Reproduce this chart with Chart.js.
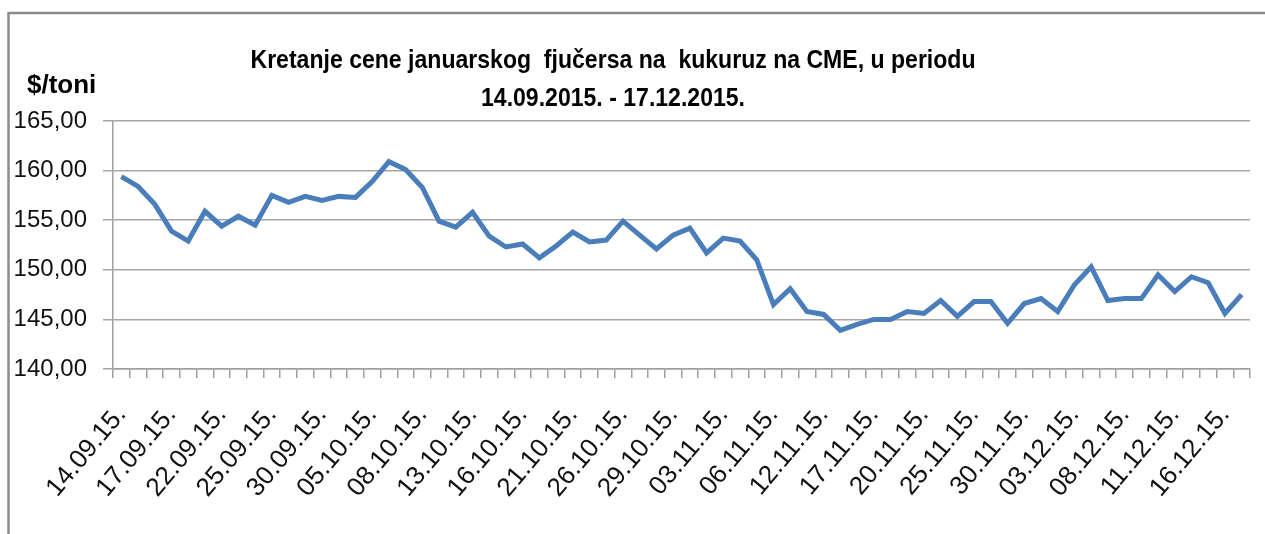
<!DOCTYPE html>
<html>
<head>
<meta charset="utf-8">
<script src="https://cdn.jsdelivr.net/npm/chart.js@4"></script>
<style>
  body { margin: 0; background: #fff; }
  #wrap { width: 1265px; height: 534px; }
</style>
</head>
<body>
<div id="wrap"><canvas id="kukuruzChart" width="1265" height="534"></canvas></div>
<script>
const dates = [
    '14.09.15.', '15.09.15.', '16.09.15.', '17.09.15.', '18.09.15.', '21.09.15.', '22.09.15.',
    '23.09.15.', '24.09.15.', '25.09.15.', '28.09.15.', '29.09.15.', '30.09.15.',
    '01.10.15.', '02.10.15.', '05.10.15.', '06.10.15.', '07.10.15.', '08.10.15.', '09.10.15.',
    '12.10.15.', '13.10.15.', '14.10.15.', '15.10.15.', '16.10.15.', '19.10.15.', '20.10.15.',
    '21.10.15.', '22.10.15.', '23.10.15.', '26.10.15.', '27.10.15.', '28.10.15.', '29.10.15.',
    '30.10.15.', '02.11.15.', '03.11.15.', '04.11.15.', '05.11.15.', '06.11.15.', '09.11.15.',
    '10.11.15.', '12.11.15.', '13.11.15.', '16.11.15.', '17.11.15.', '18.11.15.', '19.11.15.',
    '20.11.15.', '23.11.15.', '24.11.15.', '25.11.15.', '26.11.15.', '27.11.15.', '30.11.15.',
    '01.12.15.', '02.12.15.', '03.12.15.', '04.12.15.', '07.12.15.', '08.12.15.', '09.12.15.',
    '10.12.15.', '11.12.15.', '14.12.15.', '15.12.15.', '16.12.15.', '17.12.15.'
];

const prices = [
    159.4, 158.4, 156.6, 153.9, 152.9, 155.9, 154.4, 155.4, 154.5, 157.5,
    156.8, 157.4, 157.0, 157.4, 157.3, 158.9, 160.9, 160.1, 158.3, 154.9,
    154.3, 155.8, 153.4, 152.3, 152.6, 151.2, 152.4, 153.8, 152.8, 153.0,
    154.9, 153.5, 152.1, 153.5, 154.2, 151.7, 153.2, 152.9, 151.0, 146.5,
    148.1, 145.8, 145.5, 143.9, 144.5, 145.0, 145.0, 145.8, 145.6, 146.9,
    145.3, 146.8, 146.8, 144.6, 146.6, 147.1, 145.8, 148.5, 150.3, 146.9,
    147.1, 147.1, 149.5, 147.8, 149.3, 148.7, 145.6, 147.5
];

const yTicks = [140, 145, 150, 155, 160, 165];

const titleLines = [
    'Kretanje cene januarskog  fjučersa na  kukuruz na CME, u periodu',
    '14.09.2015. - 17.12.2015.'
];
const unitLabel = '$/toni';

// okvir, naslov i jedinica (naslov malo sužen kao Calibri)
const decor = {
    id: 'decor',
    afterDraw(chart) {
        const ctx = chart.ctx;
        ctx.save();
        ctx.strokeStyle = '#8c8c8c';
        ctx.lineWidth = 2.5;
        ctx.beginPath();
        ctx.moveTo(8.5, 534);
        ctx.lineTo(8.5, 13);
        ctx.lineTo(1265, 13);
        ctx.stroke();

        ctx.fillStyle = '#000';
        ctx.textBaseline = 'alphabetic';
        ctx.font = 'bold 25px "Liberation Sans", sans-serif';
        const sx = 725 / ctx.measureText(titleLines[0]).width;

        ctx.save();
        ctx.translate(613, 0);
        ctx.scale(sx, 1);
        ctx.textAlign = 'center';
        ctx.fillText(titleLines[0], 0, 68);
        ctx.fillText(titleLines[1], 0, 106);
        ctx.restore();

        ctx.font = 'bold 26px "Liberation Sans", sans-serif';
        ctx.textAlign = 'left';
        ctx.fillText(unitLabel, 27, 93);
        ctx.restore();
    }
};

new Chart(document.getElementById('kukuruzChart'), {
    type: 'line',
    data: {
        labels: dates,
        datasets: [{
            data: prices,
            borderColor: '#4a7ebb',
            borderWidth: 5,
            pointRadius: 0,
            tension: 0,
            fill: false
        }]
    },
    options: {
        responsive: false,
        animation: false,
        layout: { padding: { top: 121, left: 10, right: 15, bottom: 0 } },
        plugins: {
            legend: { display: false },
            title: { display: false },
            tooltip: { enabled: false }
        },
        scales: {
            x: {
                offset: true,
                grid: {
                    offset: true,
                    drawOnChartArea: false,
                    drawTicks: true,
                    tickLength: 9,
                    color: '#a0a0a0',
                    lineWidth: 1.5
                },
                border: { color: '#a0a0a0', width: 1.5 },
                ticks: {
                    autoSkip: false,
                    minRotation: 50,
                    maxRotation: 50,
                    padding: 22,
                    color: '#111',
                    font: { family: 'Liberation Sans', size: 26 },
                    callback(v, i) { return i % 3 === 0 ? dates[i] : ''; }
                },
                afterFit(scale) {
                    scale.height = 165;
                    scale.paddingLeft = 0;
                    scale.paddingRight = 0;
                }
            },
            y: {
                min: yTicks[0],
                max: yTicks[yTicks.length - 1],
                afterBuildTicks(scale) { scale.ticks = yTicks.map(v => ({ value: v })); },
                grid: {
                    color: '#a6a6a6',
                    lineWidth: 1.5,
                    drawTicks: true,
                    tickLength: 10
                },
                border: { color: '#a0a0a0', width: 1.5 },
                ticks: {
                    padding: 16,
                    color: '#111',
                    font: { family: 'Liberation Sans', size: 24 },
                    callback(v) { return v.toFixed(2).replace('.', ','); }
                },
                afterFit(scale) { scale.width = 103; }
            }
        }
    },
    plugins: [decor]
});
</script>
</body>
</html>
